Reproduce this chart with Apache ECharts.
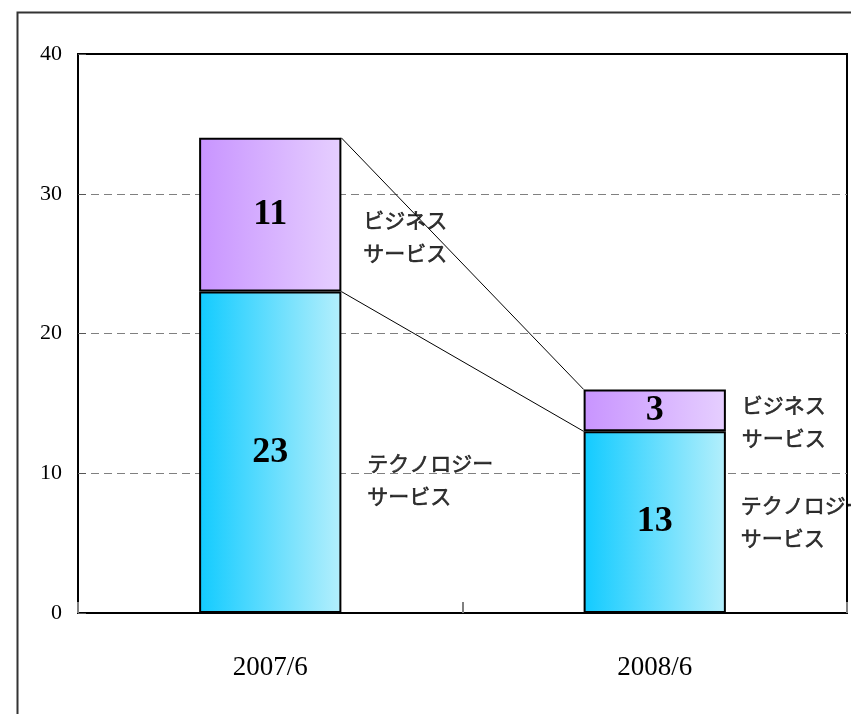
<!DOCTYPE html>
<html><head><meta charset="utf-8">
<script src="https://cdn.jsdelivr.net/npm/echarts@6/dist/echarts.min.js"></script>
<style>html,body{margin:0;padding:0;background:#fff}#c{width:851px;height:714px}</style>
</head><body><div id="c"></div>
<script>
const categories = ['2007/6', '2008/6'];
const techValues = [23, 13];
const bizValues = [11, 3];
const yTicks = [0, 10, 20, 30, 40];
const bizName = 'ビジネス\nサービス';
const techName = 'テクノロジー\nサービス';

const serif = '"Liberation Serif", "Times New Roman", serif';
const jp = '"Noto Sans CJK JP", "Noto Sans", sans-serif';
const BAR_FRAC = 0.37;

function grad(c1, c2) {
  return new echarts.graphic.LinearGradient(0, 0, 1, 0, [
    {offset: 0, color: c1}, {offset: 1, color: c2}
  ]);
}

const totals = techValues.map((v, i) => v + bizValues[i]);
const connectors = [
  [0, totals[0], 1, totals[1]],
  [0, techValues[0], 1, techValues[1]]
];

const annoOffsets = [[93, 22], [97, 27], [87, 11], [86, -1]];
const annoData = [];
categories.forEach((c, i) => {
  annoData.push({value: [i, techValues[i] + bizValues[i] / 2], name: bizName});
  annoData.push({value: [i, techValues[i] / 2], name: techName});
});
annoData.forEach((d, k) => {
  d.label = {position: annoOffsets[k]};
});

const chart = echarts.init(document.getElementById('c'));
chart.setOption({
  animation: false,
  backgroundColor: '#fff',
  graphic: [{
    type: 'rect', left: 15, top: 10, z: 100, silent: true,
    shape: {width: 900, height: 800},
    style: {fill: 'none', stroke: '#333', lineWidth: 2}
  }],
  grid: {
    left: 78, top: 54, right: 4, bottom: 101,
    show: true, borderColor: '#000', borderWidth: 2, backgroundColor: 'transparent'
  },
  xAxis: {
    type: 'category', data: categories, boundaryGap: true,
    axisLine: {show: true, lineStyle: {color: '#000', width: 2}},
    axisTick: {show: true, inside: true, length: 11, lineStyle: {color: '#808080', width: 2}},
    axisLabel: {fontFamily: serif, fontSize: 27, color: '#000', margin: 41}
  },
  yAxis: {
    type: 'value', min: yTicks[0], max: yTicks[yTicks.length - 1], interval: 10,
    axisLine: {show: false},
    axisTick: {show: true, inside: true, length: 8, lineStyle: {color: '#555'}},
    axisLabel: {fontFamily: serif, fontSize: 22, color: '#000', margin: 16},
    splitLine: {show: true, showMinLine: false, showMaxLine: false,
      lineStyle: {color: '#808080', width: 1, type: [8, 5]}}
  },
  series: [
    {
      type: 'bar', stack: 's', barWidth: (BAR_FRAC * 100) + '%', data: techValues,
      itemStyle: {color: grad('#12CBFF', '#B4EFFC'), borderColor: '#000', borderWidth: 2},
      label: {show: true, position: 'inside', fontFamily: serif, fontWeight: 'bold', fontSize: 36, color: '#000'},
      z: 3
    },
    {
      type: 'bar', stack: 's', barWidth: (BAR_FRAC * 100) + '%', data: bizValues,
      itemStyle: {color: grad('#C894FF', '#E6CFFF'), borderColor: '#000', borderWidth: 2},
      label: {show: true, position: 'inside', fontFamily: serif, fontWeight: 'bold', fontSize: 36, color: '#000'},
      z: 3
    },
    {
      type: 'custom', data: connectors, z: 5,
      encode: {x: [0, 2], y: [1, 3]},
      renderItem: function (params, api) {
        const p1 = api.coord([api.value(0), api.value(1)]);
        const p2 = api.coord([api.value(2), api.value(3)]);
        const hw = api.size([1, 0])[0] * BAR_FRAC / 2;
        return {
          type: 'line',
          shape: {x1: p1[0] + hw, y1: p1[1], x2: p2[0] - hw, y2: p2[1]},
          style: {stroke: '#000', lineWidth: 1}
        };
      }
    },
    {
      type: 'scatter', symbolSize: 0, data: annoData, z: 4,
      label: {
        show: true, formatter: p => p.name, align: 'left', verticalAlign: 'middle',
        fontFamily: jp, fontSize: 21, lineHeight: 33, color: '#000',
        textBorderColor: '#000', textBorderWidth: 0.6
      }
    }
  ]
});
</script></body></html>
